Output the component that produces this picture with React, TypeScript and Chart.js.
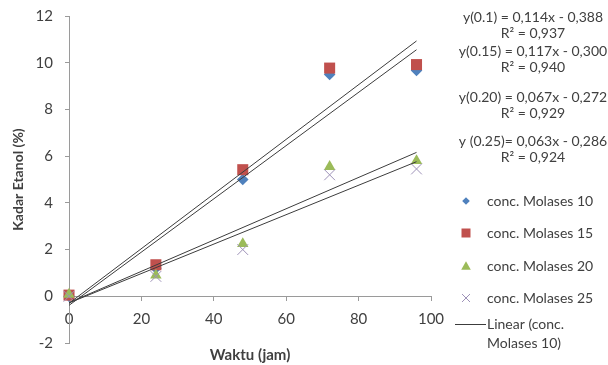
import React, { useEffect, useRef } from 'react';
import { Chart, registerables } from 'chart.js';

Chart.register(...registerables);

// ---- data ----
const hours = [0, 24, 48, 72, 96];
const molases10 = [0, 1.2, 5.0, 9.5, 9.67];
const molases15 = [0.05, 1.35, 5.42, 9.77, 9.92];
const molases20 = [0.08, 0.9, 2.25, 5.55, 5.8];
const molases25 = [0, 0.85, 2.0, 5.2, 5.45];
const seriesLabels = ['conc. Molases 10', 'conc. Molases 15', 'conc. Molases 20', 'conc. Molases 25'];
const trendSlopes = [0.114, 0.117, 0.067, 0.063];
const trendIntercepts = [-0.388, -0.3, -0.272, -0.286];
const trendRange = [0, 96];
const equationLines = [
  'y(0.1) = 0,114x - 0,388',
  'R² = 0,937',
  'y(0.15) = 0,117x - 0,300',
  'R² = 0,940',
  'y(0.20) = 0,067x - 0,272',
  'R² = 0,929',
  'y (0.25)= 0,063x - 0,286',
  'R² = 0,924',
];
const trendLegendLines = ['Linear (conc.', 'Molases 10)'];
const xTitle = 'Waktu (jam)';
const yTitle = 'Kadar Etanol (%)';
const xMin = 0, xMax = 100, xStep = 20;
const yMin = -2, yMax = 12, yStep = 2;

// ---- styles ----
const FONT = 'Lato';
const TEXT = '#404040';
const AXIS = '#9a9a9a';
const TREND = '#3c3c3c';
const colors = ['#4F81BD', '#C0504D', '#9BBB59', '#9E92B8'];
const pointStyles = ['rectRot', 'rect', 'triangle', 'crossRot'];
const pointRadii = [5.8, 7.8, 6.6, 7.6];
const eqY = [17, 33, 51, 67, 97, 113, 141, 157];
const legY = [201, 233, 266, 298];
const trendLegY = [324, 343];

function drawMarker(ctx: CanvasRenderingContext2D, kind: string, x: number, y: number, s: number, color: string) {
  ctx.save();
  ctx.fillStyle = color;
  ctx.strokeStyle = color;
  ctx.beginPath();
  if (kind === 'rectRot') {
    ctx.moveTo(x, y - s);
    ctx.lineTo(x + s, y);
    ctx.lineTo(x, y + s);
    ctx.lineTo(x - s, y);
    ctx.closePath();
    ctx.fill();
  } else if (kind === 'rect') {
    ctx.rect(x - s, y - s, 2 * s, 2 * s);
    ctx.fill();
  } else if (kind === 'triangle') {
    ctx.moveTo(x, y - s);
    ctx.lineTo(x + s, y + s * 0.8);
    ctx.lineTo(x - s, y + s * 0.8);
    ctx.closePath();
    ctx.fill();
  } else {
    ctx.lineWidth = 1;
    ctx.moveTo(x - s, y - s);
    ctx.lineTo(x + s, y + s);
    ctx.moveTo(x + s, y - s);
    ctx.lineTo(x - s, y + s);
    ctx.stroke();
  }
  ctx.restore();
}

const overlayPlugin = {
  id: 'overlay',
  afterDraw(chart: any) {
    const ctx: CanvasRenderingContext2D = chart.ctx;
    const area = chart.chartArea;
    ctx.save();
    ctx.fillStyle = TEXT;
    ctx.textBaseline = 'middle';

    // equations
    ctx.textAlign = 'center';
    ctx.font = `14px ${FONT}`;
    equationLines.forEach((t, i) => ctx.fillText(t, 533, eqY[i]));

    // x title
    ctx.font = `bold 15px ${FONT}`;
    ctx.fillText(xTitle, (area.left + area.right) / 2, 355);

    // legend
    ctx.textAlign = 'left';
    ctx.font = `14px ${FONT}`;
    const sizes = [3.8, 4.5, 4.8, 4];
    seriesLabels.forEach((label, i) => {
      drawMarker(ctx, pointStyles[i], 466, legY[i], sizes[i], colors[i]);
      ctx.fillStyle = TEXT;
      ctx.fillText(label, 487, legY[i]);
    });
    ctx.strokeStyle = TREND;
    ctx.lineWidth = 1;
    ctx.beginPath();
    ctx.moveTo(455, trendLegY[0] + 0.5);
    ctx.lineTo(486, trendLegY[0] + 0.5);
    ctx.stroke();
    ctx.fillStyle = TEXT;
    trendLegendLines.forEach((t, i) => ctx.fillText(t, 487, trendLegY[i]));
    ctx.restore();
  },
};

export default function App() {
  const canvasRef = useRef<HTMLCanvasElement | null>(null);

  useEffect(() => {
    const canvas = canvasRef.current;
    if (!canvas) return;
    const seriesValues = [molases10, molases15, molases20, molases25];

    const pointSets = seriesValues.map((vals, i) => ({
      type: 'scatter' as const,
      label: seriesLabels[i],
      data: hours.map((h, j) => ({ x: h, y: vals[j] })),
      pointStyle: pointStyles[i],
      pointRadius: pointRadii[i],
      pointHoverRadius: pointRadii[i],
      backgroundColor: colors[i],
      borderColor: colors[i],
      pointBorderWidth: pointStyles[i] === 'crossRot' ? 1 : 0,
      showLine: false,
      clip: false as any,
      order: 10 - i,
    }));

    const trendSets = trendSlopes.map((m, i) => ({
      type: 'scatter' as const,
      label: 'Linear (' + seriesLabels[i] + ')',
      data: trendRange.map((x) => ({ x, y: m * x + trendIntercepts[i] })),
      showLine: true,
      borderColor: TREND,
      borderWidth: 1,
      pointRadius: 0,
      pointHoverRadius: 0,
      clip: false as any,
      order: 0,
    }));

    const chart = new Chart(canvas, {
      type: 'scatter',
      data: { datasets: [...pointSets, ...trendSets] as any },
      plugins: [overlayPlugin],
      options: {
        responsive: false,
        animation: false,
        events: [],
        layout: { padding: { left: 0, top: 16, right: 177, bottom: 22 } },
        plugins: {
          legend: { display: false },
          tooltip: { enabled: false },
        },
        scales: {
          x: {
            type: 'linear',
            position: { y: 0 } as any,
            min: xMin,
            max: xMax,
            ticks: {
              stepSize: xStep,
              color: TEXT,
              font: { family: FONT, size: 15 },
              padding: 10,
              maxRotation: 0,
            },
            grid: {
              drawOnChartArea: false,
              drawTicks: true,
              tickLength: 4,
              color: AXIS,
            },
            border: { display: true, color: AXIS, width: 1 },
            afterFit: (scale: any) => {
              scale.height = 22;
            },
          },
          y: {
            type: 'linear',
            position: 'left',
            min: yMin,
            max: yMax,
            ticks: {
              stepSize: yStep,
              color: TEXT,
              font: { family: FONT, size: 15 },
              padding: 12,
            },
            grid: {
              drawOnChartArea: false,
              drawTicks: true,
              tickLength: 4,
              color: AXIS,
            },
            border: { display: true, color: AXIS, width: 1 },
            title: {
              display: true,
              text: yTitle,
              color: TEXT,
              font: { family: FONT, size: 14, weight: 'bold' },
              padding: { top: 10, bottom: 0 },
            },
            afterFit: (scale: any) => {
              scale.width = 69;
              scale.paddingTop = 0;
              scale.paddingBottom = 0;
            },
          },
        },
      },
    });
    return () => chart.destroy();
  }, []);

  return (
    <div style={{ position: 'absolute', left: 0, top: 0, width: 608, height: 365, background: '#fff' }}>
      <canvas ref={canvasRef} width={608} height={365} style={{ display: 'block' }} />
    </div>
  );
}
